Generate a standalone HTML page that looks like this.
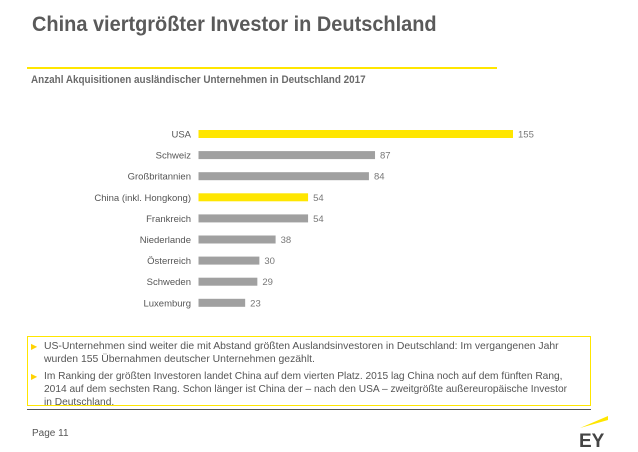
<!DOCTYPE html>
<html><head><meta charset="utf-8"><style>
body{margin:0;width:638px;height:452px;background:#fff;font-family:"Liberation Sans",sans-serif;position:relative;overflow:hidden}
.a{position:absolute}
.sx{transform-origin:0 0;white-space:nowrap}
</style></head><body>
<div class="a sx" style="left:32px;top:13px;font-size:21px;font-weight:bold;color:#5a5a5a;transform:scaleX(0.95)">China viertgrößter Investor in Deutschland</div>
<div class="a" style="left:27px;top:67px;width:470px;height:2px;background:#ffe600"></div>
<div class="a sx" style="left:31px;top:74px;font-size:11px;font-weight:bold;color:#6a6a6a;transform:scaleX(0.9)">Anzahl Akquisitionen ausländischer Unternehmen in Deutschland 2017</div>
<svg class="a" style="left:0;top:0" width="638" height="330" id="chart"></svg>
<div class="a" style="left:27px;top:336px;width:562px;height:68px;border:1px solid #ffe600;font-size:10.4px;color:#555;line-height:13px">
<div style="position:absolute;left:16px;top:3px"><span style="position:absolute;left:-13px;color:#ffd200;font-size:8px">▶</span><div class="sx">US-Unternehmen sind weiter die mit Abstand größten Auslandsinvestoren in Deutschland: Im vergangenen Jahr<br>wurden 155 Übernahmen deutscher Unternehmen gezählt.</div></div>
<div style="position:absolute;left:16px;top:33px"><span style="position:absolute;left:-13px;color:#ffd200;font-size:8px">▶</span><div class="sx" style="transform:scaleX(0.98)">Im Ranking der größten Investoren landet China auf dem vierten Platz. 2015 lag China noch auf dem fünften Rang,<br>2014 auf dem sechsten Rang. Schon länger ist China der – nach den USA – zweitgrößte außereuropäische Investor<br>in Deutschland.</div></div>
</div>
<div class="a" style="left:27px;top:409px;width:564px;height:1px;background:#555"></div>
<div class="a" style="left:32px;top:428px;font-size:10px;color:#555">Page 11</div>
<svg class="a" style="left:574px;top:414px" width="40" height="36">
<polygon points="6,14 34,2 34,6" fill="#ffe600"/>
<text x="5" y="33" font-family="Liberation Sans" font-weight="bold" font-size="19" fill="#444">EY</text>
</svg>
<script>
const categories=["USA","Schweiz","Großbritannien","China (inkl. Hongkong)","Frankreich","Niederlande","Österreich","Schweden","Luxemburg"];
const values=[155,87,84,54,54,38,30,29,23];
const highlight=[true,false,false,true,false,false,false,false,false];
const svg=document.getElementById('chart');const NS='http://www.w3.org/2000/svg';
const x0=198.5,xs=v=>x0+v*314.5/155,yc=i=>134+i*21.1;
categories.forEach((c,i)=>{
const r=document.createElementNS(NS,'rect');
r.setAttribute('x',x0);r.setAttribute('y',yc(i)-4);r.setAttribute('width',xs(values[i])-x0);r.setAttribute('height',8);
r.setAttribute('fill',highlight[i]?'#ffe600':'#a0a0a0');


svg.appendChild(r);
const t=document.createElementNS(NS,'text');
t.setAttribute('x',191);t.setAttribute('y',yc(i)+3.5);t.setAttribute('text-anchor','end');
t.setAttribute('font-size','9.5');t.setAttribute('fill','#555');t.textContent=c;


svg.appendChild(t);
const v=document.createElementNS(NS,'text');
v.setAttribute('x',xs(values[i])+5);v.setAttribute('y',yc(i)+3.5);
v.setAttribute('font-size','9.5');v.setAttribute('fill','#777');v.textContent=values[i];


svg.appendChild(v);
});
</script>
</body></html>
